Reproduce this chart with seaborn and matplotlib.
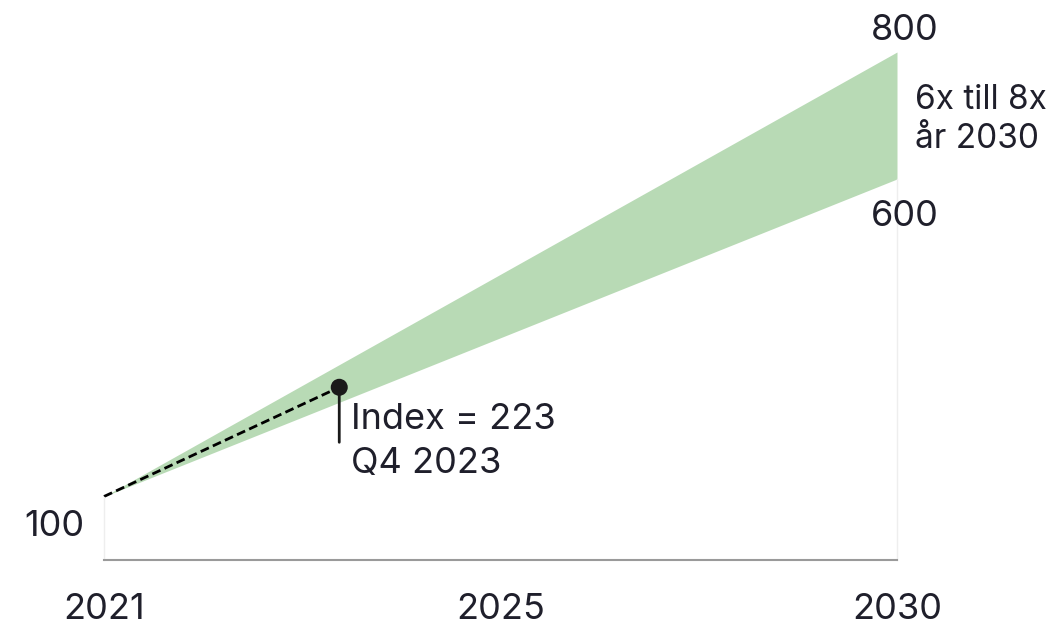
import matplotlib
matplotlib.use("Agg")
import matplotlib.pyplot as plt
import seaborn as sns
import pandas as pd

# data
years = [2021, 2030]
band_low = [100, 600]
band_high = [100, 800]
trend_years = [2021, 2023.67]
trend_values = [100, 272]
index_label = "Index = 223\nQ4 2023"
tick_years = ["2021", "2025", "2030"]
range_label = "6x till 8x\når 2030"

sns.set_theme(style="white")
plt.rcParams["font.family"] = ["Inter", "DejaVu Sans"]
text_col = "#1f1f2b"
green = "#b8dab5"
fs = 26

fig = plt.figure(figsize=(10.54, 6.26), dpi=100)
ax = fig.add_axes([104 / 1054, 1 - 560 / 626, (897 - 104) / 1054, (560 - 52) / 626])

ax.fill_between(years, band_low, band_high, color=green, linewidth=0)

trend = pd.DataFrame({"year": trend_years, "value": trend_values})
sns.lineplot(data=trend, x="year", y="value", ax=ax, color="black",
             linestyle=(0, (3.2, 1.6)), linewidth=2, clip_on=False)
sns.scatterplot(x=[trend_years[-1]], y=[trend_values[-1]], ax=ax, color="#1a1a1a",
                s=150, edgecolor="none", zorder=5, clip_on=False)

# pointer from the dot
ax.annotate("", xy=(trend_years[-1], trend_values[-1]), xytext=(0, -55),
            textcoords="offset pixels",
            arrowprops=dict(arrowstyle="-", color="#1a1a1a", lw=2, shrinkA=0, shrinkB=0))
ax.annotate(index_label, xy=(trend_years[-1], trend_values[-1]), xytext=(12, -16),
            textcoords="offset pixels", ha="left", va="top", fontsize=fs,
            color=text_col, linespacing=1.4)

ax.set_xlim(years[0], years[-1])
ax.set_ylim(0, band_high[-1])
ax.set_xticks([years[0], (years[0] + years[-1]) / 2, years[-1]])
ax.set_xticklabels(tick_years)
ax.set_yticks([])
ax.tick_params(axis="x", length=0, pad=24, labelsize=fs, labelcolor=text_col)
ax.set_xlabel("")
ax.set_ylabel("")

ax.spines["top"].set_visible(False)
ax.spines["bottom"].set_color("#9a9a9a")
ax.spines["bottom"].set_linewidth(1.5)
for side in ["left", "right"]:
    ax.spines[side].set_color("#eeeeee")
    ax.spines[side].set_linewidth(1)
ax.spines["left"].set_bounds(0, band_low[0])
ax.spines["right"].set_bounds(0, band_low[-1])

# value labels
ax.annotate(str(band_low[0]), xy=(years[0], band_low[0]), xytext=(-50, -30),
            textcoords="offset pixels", ha="center", va="center",
            fontsize=fs, color=text_col)
ax.annotate(str(band_high[-1]), xy=(years[-1], band_high[-1]), xytext=(8, 22),
            textcoords="offset pixels", ha="center", va="center",
            fontsize=fs, color=text_col)
ax.annotate(str(band_low[-1]), xy=(years[-1], band_low[-1]), xytext=(8, -38),
            textcoords="offset pixels", ha="center", va="center",
            fontsize=fs, color=text_col)
ax.annotate(range_label, xy=(years[-1], (band_low[-1] + band_high[-1]) / 2),
            xytext=(18, -4), textcoords="offset pixels", ha="left", va="center",
            fontsize=fs - 2, color=text_col, linespacing=1.3)

fig.savefig("out.png", dpi=100)
